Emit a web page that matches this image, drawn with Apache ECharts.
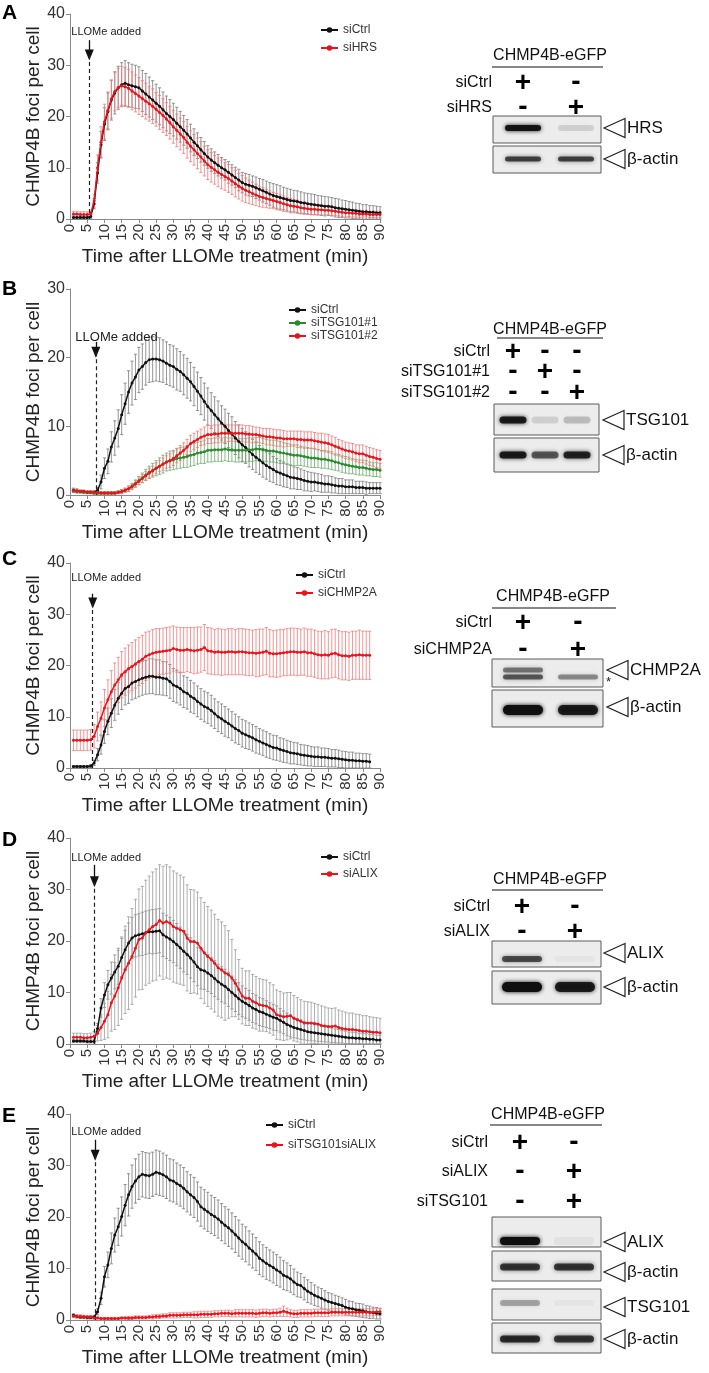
<!DOCTYPE html>
<html><head><meta charset="utf-8">
<script src="https://cdn.jsdelivr.net/npm/echarts@6/dist/echarts.min.js"></script>
<style>html,body{margin:0;padding:0;background:#fff}#c{width:709px;height:1373px}</style>
</head><body><div id="c"></div>
<script>
const FONT = "'Liberation Sans', Arial, Helvetica, sans-serif";
// time points (min)
const MINUTES = [1,2,3,4,5,6,7,8,9,10,11,12,13,14,15,16,17,18,19,20,21,22,23,24,25,26,27,28,29,30,
31,32,33,34,35,36,37,38,39,40,41,42,43,44,45,46,47,48,49,50,51,52,53,54,55,56,57,58,59,60,
61,62,63,64,65,66,67,68,69,70,71,72,73,74,75,76,77,78,79,80,81,82,83,84,85,86,87,88,89,90];
const X_TICKS = [0,5,10,15,20,25,30,35,40,45,50,55,60,65,70,75,80,85,90];

// ---- Panel A ----
const A_ctrl = [0.3,0.3,0.3,0.3,0.3,0.5,3.0,9.0,14.5,18.5,
21.0,23.2,24.6,25.6,26.2,26.5,26.2,26.0,25.8,25.6,
25.0,24.4,23.8,23.2,22.6,22.0,21.3,20.6,20.0,19.4,
18.7,18.0,17.3,16.6,15.8,15.0,14.3,13.5,12.8,12.1,
11.5,11.0,10.5,10.0,9.6,9.1,8.6,8.1,7.6,7.1,
6.8,6.6,6.4,6.1,5.8,5.5,5.2,4.9,4.6,4.4,
4.2,4.0,3.8,3.6,3.5,3.4,3.2,3.1,3.0,2.9,
2.8,2.7,2.6,2.5,2.5,2.4,2.2,2.1,2.0,1.9,
1.8,1.7,1.6,1.5,1.4,1.4,1.3,1.3,1.2,1.2];
const A_ctrl_err = [0.3,0.3,0.3,0.2,0.3,0.4,1.0,2.0,2.6,3.2,
3.6,3.9,4.1,4.2,4.3,4.4,4.3,4.2,4.2,4.1,
4.0,4.0,3.9,3.8,3.7,3.6,3.5,3.4,3.3,3.2,
3.1,3.0,2.9,2.8,2.7,2.6,2.5,2.4,2.3,2.2,
2.2,2.1,2.1,2.0,2.0,2.1,2.0,2.0,2.1,2.0,
2.1,2.1,2.0,2.1,2.1,2.2,2.2,2.2,2.3,2.3,
2.3,2.2,2.2,2.2,2.1,2.1,2.1,2.0,2.0,2.0,
2.0,1.9,1.9,1.9,1.8,1.8,1.8,1.8,1.7,1.7,
1.6,1.6,1.5,1.5,1.4,1.4,1.3,1.3,1.3,1.2];
const A_hrs = [1.0,1.0,0.9,0.9,0.9,1.0,3.5,10.0,15.0,19.0,
21.2,23.4,24.9,25.6,26.0,25.8,25.5,25.0,24.5,24.0,
23.5,23.0,22.5,22.0,21.4,20.8,20.2,19.5,18.8,18.0,
17.3,16.6,15.9,15.0,14.2,13.5,12.8,12.1,11.3,10.6,
10.1,9.6,9.1,8.7,8.3,7.9,7.4,6.9,6.4,6.0,
5.6,5.3,5.0,4.7,4.4,4.2,4.0,3.8,3.6,3.4,
3.2,3.0,2.8,2.6,2.5,2.4,2.2,2.1,2.0,1.9,
1.9,1.8,1.8,1.7,1.7,1.6,1.5,1.4,1.3,1.2,
1.2,1.1,1.1,1.0,1.0,1.0,0.9,0.9,0.9,0.9];
const A_hrs_err = [0.5,0.5,0.5,0.5,0.5,0.5,1.2,2.5,3.0,3.4,
3.6,3.7,3.8,3.8,3.8,3.8,3.7,3.7,3.6,3.6,
3.5,3.5,3.4,3.4,3.3,3.3,3.3,3.2,3.2,3.2,
3.2,3.1,3.1,3.1,3.0,3.0,3.0,3.0,2.9,2.9,
2.9,2.8,2.8,2.8,2.7,2.7,2.6,2.6,2.5,2.5,
2.4,2.3,2.2,2.1,2.0,1.9,1.8,1.7,1.6,1.6,
1.5,1.5,1.4,1.4,1.3,1.3,1.2,1.2,1.1,1.1,
1.0,1.0,1.0,0.9,0.9,0.9,0.8,0.8,0.8,0.8,
0.7,0.7,0.7,0.7,0.6,0.6,0.6,0.6,0.6,0.6];

// ---- Panel B ----
const B_ctrl = [0.7,0.6,0.5,0.5,0.4,0.4,0.4,0.7,1.9,3.9,
4.9,7.0,8.3,9.7,11.7,13.3,15.0,16.3,17.2,18.2,
18.7,19.3,19.7,19.8,19.8,19.7,19.5,19.2,18.9,18.7,
18.3,18.0,17.5,17.0,16.5,15.8,15.1,14.4,13.6,12.9,
12.3,11.7,11.1,10.5,10.0,9.4,8.9,8.3,7.8,7.3,
6.9,6.4,5.9,5.5,5.1,4.7,4.3,4.0,3.7,3.4,
3.2,3.0,2.8,2.6,2.5,2.4,2.3,2.1,2.0,1.9,
1.9,1.8,1.7,1.6,1.6,1.5,1.4,1.3,1.3,1.2,
1.2,1.2,1.1,1.1,1.1,1.0,1.0,1.0,1.0,1.0];
const B_ctrl_err = [0.3,0.3,0.2,0.2,0.2,0.2,0.2,0.4,1.0,1.5,
1.8,2.2,2.5,2.7,2.9,3.0,3.1,3.2,3.3,3.3,
3.3,3.3,3.3,3.3,3.2,3.2,3.1,3.1,3.0,3.0,
3.0,2.9,2.9,2.9,2.8,2.8,2.8,2.7,2.7,2.7,
2.6,2.6,2.6,2.5,2.5,2.5,2.5,2.4,2.4,2.4,
2.3,2.3,2.2,2.2,2.1,2.1,2.0,2.0,1.9,1.9,
1.8,1.8,1.7,1.7,1.6,1.6,1.5,1.5,1.4,1.4,
1.3,1.3,1.3,1.2,1.2,1.2,1.1,1.1,1.1,1.0,
1.0,1.0,0.9,0.9,0.9,0.9,0.8,0.8,0.8,0.8];
const B_tsg1 = [0.6,0.5,0.5,0.4,0.4,0.4,0.3,0.3,0.3,0.3,
0.3,0.3,0.3,0.4,0.5,0.7,0.9,1.3,1.7,2.1,
2.5,2.9,3.3,3.6,3.9,4.2,4.5,4.8,5.0,5.1,
5.3,5.4,5.5,5.6,5.8,5.9,6.1,6.2,6.3,6.5,
6.5,6.6,6.6,6.6,6.7,6.6,6.6,6.5,6.5,6.5,
6.5,6.6,6.6,6.7,6.7,6.6,6.5,6.4,6.4,6.3,
6.2,6.1,6.0,5.9,5.8,5.8,5.7,5.6,5.5,5.4,
5.4,5.3,5.2,5.2,5.1,5.0,4.8,4.7,4.5,4.4,
4.3,4.2,4.1,4.0,4.0,3.9,3.8,3.7,3.7,3.6];
const B_tsg1_err = [0.2,0.2,0.2,0.2,0.2,0.2,0.2,0.2,0.2,0.2,
0.2,0.2,0.2,0.2,0.3,0.3,0.4,0.4,0.5,0.6,
0.7,0.8,0.9,1.0,1.1,1.2,1.3,1.3,1.4,1.4,
1.5,1.5,1.5,1.6,1.6,1.6,1.6,1.6,1.7,1.7,
1.7,1.7,1.7,1.7,1.7,1.7,1.7,1.7,1.7,1.7,
1.7,1.7,1.7,1.7,1.7,1.6,1.6,1.6,1.6,1.6,
1.6,1.5,1.5,1.5,1.5,1.5,1.4,1.4,1.4,1.4,
1.4,1.3,1.3,1.3,1.3,1.3,1.2,1.2,1.2,1.2,
1.2,1.1,1.1,1.1,1.1,1.1,1.0,1.0,1.0,1.0];
const B_tsg2 = [0.7,0.6,0.5,0.5,0.4,0.4,0.4,0.4,0.3,0.3,
0.3,0.3,0.3,0.4,0.5,0.7,0.9,1.2,1.6,2.0,
2.4,2.8,3.2,3.5,3.9,4.2,4.5,4.8,5.0,5.3,
5.7,6.1,6.5,7.0,7.5,7.8,8.1,8.4,8.6,8.8,
8.8,8.9,8.9,9.0,9.0,9.0,9.0,9.0,9.0,9.0,
8.9,8.9,8.8,8.8,8.7,8.6,8.5,8.5,8.4,8.3,
8.3,8.2,8.2,8.2,8.2,8.1,8.1,8.0,8.0,8.0,
7.9,7.8,7.7,7.6,7.5,7.3,7.1,6.9,6.7,6.5,
6.4,6.3,6.1,6.0,6.0,5.8,5.6,5.5,5.3,5.2];
const B_tsg2_err = [0.2,0.2,0.2,0.2,0.2,0.2,0.2,0.2,0.2,0.2,
0.2,0.2,0.2,0.2,0.3,0.3,0.4,0.4,0.5,0.5,
0.6,0.6,0.7,0.7,0.8,0.8,0.9,0.9,1.0,1.0,
1.0,1.1,1.1,1.1,1.2,1.2,1.2,1.2,1.3,1.3,
1.3,1.3,1.3,1.3,1.3,1.2,1.2,1.2,1.2,1.2,
1.2,1.2,1.2,1.1,1.1,1.1,1.2,1.2,1.2,1.2,
1.2,1.2,1.1,1.1,1.1,1.2,1.2,1.2,1.2,1.2,
1.2,1.2,1.3,1.3,1.3,1.3,1.3,1.2,1.2,1.2,
1.2,1.2,1.2,1.3,1.3,1.3,1.3,1.3,1.3,1.3];

// ---- Panel C (87 time points) ----
const C_ctrl = [0.3,0.3,0.3,0.3,0.3,0.4,1.0,2.6,4.5,7.1,
9.1,10.7,12.3,13.6,14.6,15.5,15.9,16.6,16.9,17.2,
17.5,17.7,17.9,17.9,17.7,17.7,17.5,17.4,16.9,16.2,
15.9,15.5,14.9,14.6,14.0,13.6,13.0,12.5,12.0,11.7,
11.2,10.6,10.0,9.6,9.1,8.7,8.2,7.7,7.3,6.8,
6.5,6.2,5.9,5.5,5.2,4.9,4.6,4.3,4.0,3.9,
3.6,3.4,3.2,3.0,2.9,2.8,2.6,2.5,2.4,2.3,
2.2,2.2,2.1,2.1,2.0,1.9,1.9,1.8,1.7,1.6,
1.5,1.5,1.4,1.4,1.3,1.3,1.2];
const C_ctrl_err = [0.2,0.2,0.2,0.2,0.2,0.3,0.5,1.2,1.8,2.3,
2.6,2.8,3.0,3.1,3.2,3.2,3.3,3.3,3.3,3.3,
3.3,3.3,3.4,3.4,3.4,3.4,3.3,3.3,3.3,3.2,
3.2,3.2,3.1,3.1,3.1,3.0,3.0,3.0,3.0,3.0,
3.0,2.9,2.9,2.9,2.9,2.8,2.8,2.8,2.7,2.7,
2.7,2.6,2.6,2.6,2.5,2.5,2.5,2.4,2.4,2.4,
2.3,2.3,2.2,2.2,2.1,2.1,2.0,2.0,2.0,1.9,
1.9,1.9,1.8,1.8,1.8,1.7,1.7,1.7,1.6,1.6,
1.6,1.6,1.5,1.5,1.5,1.5,1.5];
const C_chmp = [5.4,5.4,5.4,5.4,5.4,5.5,6.2,8.1,9.7,11.7,
13.3,14.9,16.2,17.2,18.2,18.8,19.4,19.8,20.3,20.8,
21.2,21.8,22.1,22.4,22.6,22.7,22.8,22.9,23.0,23.3,
23.1,23.0,23.0,23.1,23.0,22.9,23.0,23.1,23.5,22.9,
22.8,22.6,22.7,22.6,22.6,22.7,22.7,22.6,22.7,22.7,
22.6,22.5,22.5,22.4,22.5,22.6,22.8,22.4,22.3,22.3,
22.4,22.5,22.6,22.7,22.7,22.6,22.6,22.7,22.5,22.5,
22.3,22.1,22.0,22.1,22.0,22.3,22.4,22.1,21.9,21.9,
21.8,22.0,22.0,22.1,22.0,22.0,22.0];
const C_chmp_err = [2.0,2.0,2.0,2.0,2.0,2.0,2.3,2.8,3.2,3.6,
3.9,4.1,4.3,4.4,4.5,4.6,4.6,4.7,4.7,4.7,
4.7,4.7,4.6,4.6,4.6,4.5,4.5,4.5,4.5,4.4,
4.4,4.4,4.4,4.3,4.4,4.5,4.5,4.4,4.5,4.5,
4.5,4.4,4.5,4.5,4.4,4.5,4.5,4.4,4.5,4.5,
4.5,4.5,4.4,4.6,4.6,4.5,4.6,4.6,4.5,4.6,
4.6,4.5,4.6,4.6,4.6,4.6,4.5,4.6,4.6,4.6,
4.6,4.6,4.6,4.7,4.6,4.7,4.7,4.7,4.7,4.7,
4.7,4.7,4.7,4.8,4.7,4.7,4.7];

// ---- Panel D ----
const D_ctrl = [0.6,0.6,0.6,0.6,0.5,0.5,0.5,3.0,7.0,9.5,
11.5,12.8,14.0,15.1,16.8,18.3,19.6,20.6,21.0,21.2,
21.4,21.6,21.8,21.8,21.9,22.0,21.2,20.8,20.4,19.9,
19.3,18.7,18.0,17.4,16.7,15.9,15.0,14.4,14.2,13.8,
13.3,12.7,12.1,11.6,11.2,10.6,10.0,9.4,8.8,8.3,
7.9,7.5,7.0,6.7,6.3,6.1,5.8,5.5,5.2,5.0,
4.6,4.2,3.8,3.5,3.2,3.0,2.8,2.6,2.4,2.3,
2.2,2.1,2.0,1.9,1.8,1.7,1.6,1.5,1.4,1.3,
1.2,1.2,1.1,1.1,1.0,1.0,0.9,0.9,0.8,0.8];
const D_ctrl_err = [0.3,0.3,0.3,0.3,0.3,0.3,0.3,1.0,1.8,2.4,
2.8,3.1,3.3,3.5,3.7,3.8,3.9,4.0,4.1,4.1,
4.2,4.2,4.2,4.3,4.3,4.3,4.2,4.2,4.2,4.1,
4.1,4.0,4.0,3.9,3.9,3.8,3.7,3.7,3.6,3.6,
3.5,3.5,3.4,3.4,3.3,3.3,3.2,3.1,3.1,3.0,
2.9,2.9,2.8,2.8,2.7,2.7,2.6,2.5,2.5,2.4,
2.3,2.2,2.2,2.1,2.0,1.9,1.9,1.8,1.7,1.7,
1.6,1.6,1.5,1.5,1.4,1.4,1.3,1.3,1.2,1.2,
1.1,1.1,1.1,1.0,1.0,1.0,0.9,0.9,0.9,0.9];
const D_alix = [1.3,1.3,1.3,1.2,1.2,1.3,1.5,2.1,3.2,4.4,
5.7,8.0,9.3,10.9,12.8,14.4,15.7,17.0,18.6,20.3,
20.6,21.6,22.2,22.8,23.2,24.0,23.5,23.8,23.5,22.8,
22.5,22.2,21.9,20.6,19.9,19.9,19.6,18.6,17.7,17.0,
16.4,15.7,14.8,14.4,13.8,13.5,12.8,11.8,10.6,9.3,
8.9,8.9,8.3,8.0,7.6,7.5,7.4,7.0,6.6,5.7,
5.5,5.3,5.4,5.5,5.0,4.7,4.4,4.1,4.1,4.1,
4.0,3.9,3.6,3.5,3.4,3.4,3.5,3.2,3.0,2.9,
2.8,2.8,2.7,2.6,2.5,2.5,2.4,2.3,2.3,2.2];
const D_alix_err = [0.8,0.8,0.8,0.8,0.8,0.8,0.9,1.5,2.5,3.5,
4.5,5.5,6.5,7.3,8.0,8.5,9.0,9.3,9.5,9.8,
10.0,10.2,10.4,10.6,10.8,10.8,11.0,11.0,10.9,10.8,
10.7,10.6,10.5,10.3,10.1,10.0,9.9,9.8,9.8,9.7,
9.6,9.5,9.4,9.3,9.2,8.5,7.5,6.5,5.8,5.4,
5.3,5.3,5.2,5.1,5.1,5.0,5.0,4.9,4.9,4.8,
4.7,4.6,4.6,4.5,4.4,4.3,4.2,4.2,4.1,4.0,
3.9,3.8,3.8,3.7,3.6,3.5,3.5,3.4,3.4,3.3,
3.2,3.2,3.1,3.1,3.0,3.0,2.9,2.9,2.8,2.8];

// ---- Panel E ----
const E_ctrl = [0.9,0.7,0.6,0.6,0.5,0.5,0.6,1.6,4.2,8.4,
10.7,13.9,16.5,18.1,20.1,22.3,24.3,25.9,27.0,27.8,
28.3,28.1,28.0,28.3,28.7,28.5,28.2,27.8,27.2,27.0,
26.5,26.1,25.6,24.9,24.3,23.8,23.0,22.0,21.5,21.0,
20.5,20.1,19.6,19.0,18.4,17.9,17.3,16.6,15.9,15.2,
14.7,14.0,13.4,12.8,12.0,11.5,11.0,10.6,10.2,9.7,
9.3,8.7,8.4,8.0,7.4,6.9,6.7,6.1,5.6,5.2,
4.8,4.5,4.2,3.9,3.6,3.4,3.2,3.0,2.8,2.5,
2.3,2.2,2.0,1.9,1.8,1.6,1.5,1.4,1.3,1.2];
const E_ctrl_err = [0.3,0.3,0.3,0.3,0.3,0.3,0.3,0.6,1.2,2.0,
2.5,3.0,3.3,3.6,3.8,4.0,4.1,4.2,4.3,4.4,
4.4,4.4,4.4,4.3,4.3,4.3,4.2,4.2,4.1,4.1,
4.0,4.0,4.0,3.9,3.9,3.9,3.8,3.8,3.8,3.8,
3.7,3.7,3.7,3.6,3.6,3.6,3.5,3.5,3.5,3.4,
3.4,3.3,3.3,3.2,3.2,3.1,3.1,3.0,3.0,3.0,
2.9,2.8,2.7,2.6,2.5,2.4,2.3,2.2,2.2,2.1,
2.0,1.9,1.9,1.8,1.7,1.7,1.6,1.6,1.5,1.5,
1.4,1.4,1.3,1.3,1.3,1.2,1.2,1.1,1.1,1.0];
const E_dbl = [0.8,0.7,0.7,0.6,0.6,0.6,0.4,0.4,0.3,0.3,
0.3,0.3,0.3,0.3,0.4,0.4,0.4,0.4,0.5,0.5,
0.5,0.5,0.6,0.6,0.7,0.7,0.8,0.8,0.9,0.9,
0.9,0.9,1.0,1.0,1.0,1.0,1.0,1.1,1.1,1.1,
1.1,1.2,1.2,1.3,1.3,1.3,1.2,1.3,1.3,1.3,
1.3,1.3,1.3,1.2,1.3,1.4,1.4,1.3,1.4,1.4,
1.5,1.7,1.5,1.3,1.2,1.2,1.3,1.3,1.3,1.3,
1.4,1.4,1.4,1.4,1.4,1.5,1.5,1.5,1.5,1.5,
1.5,1.5,1.5,1.5,1.5,1.5,1.5,1.5,1.6,1.6];
const E_dbl_err = [0.3,0.3,0.3,0.3,0.3,0.3,0.2,0.2,0.2,0.2,
0.2,0.2,0.2,0.2,0.2,0.2,0.3,0.3,0.3,0.3,
0.3,0.3,0.3,0.4,0.4,0.4,0.4,0.4,0.5,0.5,
0.5,0.5,0.5,0.5,0.5,0.6,0.6,0.6,0.6,0.6,
0.6,0.6,0.6,0.6,0.6,0.6,0.6,0.7,0.7,0.7,
0.7,0.7,0.7,0.7,0.7,0.7,0.7,0.7,0.7,0.7,
0.8,1.0,0.8,0.7,0.7,0.7,0.7,0.7,0.7,0.7,
0.7,0.7,0.7,0.7,0.7,0.7,0.7,0.7,0.7,0.7,
0.7,0.7,0.7,0.7,0.7,0.7,0.7,0.7,0.7,0.7];

// ---- Western blot annotations ----
const BLOT_TITLE = 'CHMP4B-eGFP';
const A_rows = ['siCtrl','siHRS'];
const A_signs = [['+','-'],['-','+']];
const A_blots = ['HRS','β-actin'];
const A_bands = [[0.95,0.12],[0.7,0.7]];
const B_rows = ['siCtrl','siTSG101#1','siTSG101#2'];
const B_signs = [['+','-','-'],['-','+','-'],['-','-','+']];
const B_blots = ['TSG101','β-actin'];
const B_bands = [[0.9,0.12,0.2],[0.9,0.6,0.85]];
const C_rows = ['siCtrl','siCHMP2A'];
const C_signs = [['+','-'],['-','+']];
const C_blots = ['CHMP2A','β-actin'];
const C_bands = [[0.6,0.4],[1.0,0.9]];
const D_rows = ['siCtrl','siALIX'];
const D_signs = [['+','-'],['-','+']];
const D_blots = ['ALIX','β-actin'];
const D_bands = [[0.65,0.03],[1.0,0.9]];
const E_rows = ['siCtrl','siALIX','siTSG101'];
const E_signs = [['+','-'],['-','+'],['-','+']];
const E_blots = ['ALIX','β-actin','TSG101','β-actin'];
const E_bands = [[1.0,0.05],[0.75,0.75],[0.3,0.03],[0.8,0.75]];

const BLACK = '#111111', RED = '#e8141c', GREEN = '#2b8a2b';
const panels = [
  {letter:'A', top:14, height:205, yMax:40, letterY:3,
   series:[{name:'siCtrl', v:A_ctrl, e:A_ctrl_err, c:BLACK, ec:'#7a7a7a'},
           {name:'siHRS', v:A_hrs, e:A_hrs_err, c:RED, ec:'#f07878'}],
   legend:{left:315, top:19, gap:6},
   llome:{x:5.6, top:34.9, tip:32.0, tx:10.5, ty:36.5, fs:11},
   blot:{rows:A_rows, signs:A_signs, names:A_blots, bands:A_bands, titleX:550, titleY:56, ul:[492,603,67], labelRight:492,
         rowY:[83,108], colX:[523,576], boxX:[493,601], boxes:[[116,143],[146,173]], bandY:[128,159], bandH:[6,5], bandW:36, arrowX:604, labelY:[128,159]}},
  {letter:'B', top:289, height:206, yMax:30, letterY:279,
   series:[{name:'siCtrl', v:B_ctrl, e:B_ctrl_err, c:BLACK, ec:'#7a7a7a'},
           {name:'siTSG101#1', v:B_tsg1, e:B_tsg1_err, c:GREEN, ec:'#6aaa6a'},
           {name:'siTSG101#2', v:B_tsg2, e:B_tsg2_err, c:RED, ec:'#f07878'}],
   legend:{left:283, top:299, gap:1},
   llome:{x:7.5, top:22.3, tip:20.8, tx:13.5, ty:23.0, fs:13},
   blot:{rows:B_rows, signs:B_signs, names:B_blots, bands:B_bands, titleX:550, titleY:330, ul:[497,603,338], labelRight:490,
         rowY:[352,372,393], colX:[513,545,577], boxX:[494,599], boxes:[[404,435],[438,472]], bandY:[420,455], bandH:[7,7], bandW:27, arrowX:603, labelY:[420,455]}},
  {letter:'C', top:563, height:205, yMax:40, letterY:549,
   series:[{name:'siCtrl', v:C_ctrl, e:C_ctrl_err, c:BLACK, ec:'#7a7a7a'},
           {name:'siCHMP2A', v:C_chmp, e:C_chmp_err, c:RED, ec:'#f07878'}],
   legend:{left:290, top:564, gap:6},
   llome:{x:6.6, top:34.0, tip:32.2, tx:10.5, ty:37.1, fs:11},
   blot:{rows:C_rows, signs:C_signs, names:C_blots, bands:C_bands, titleX:553, titleY:597, ul:[492,616,608], labelRight:492,
         rowY:[623,650], colX:[523,578], boxX:[492,603], boxes:[[659,687],[690,727]], bandY:[675,710], bandH:[8,10], bandW:40, arrowX:607, labelY:[670,707], star:true}},
  {letter:'D', top:838, height:206, yMax:40, letterY:830,
   series:[{name:'siCtrl', v:D_ctrl, e:D_ctrl_err, c:BLACK, ec:'#8a8a8a'},
           {name:'siALIX', v:D_alix, e:D_alix_err, c:RED, ec:'#9a9a9a'}],
   legend:{left:315, top:846, gap:5},
   llome:{x:7.1, top:34.8, tip:31.5, tx:10.5, ty:36.1, fs:11},
   blot:{rows:D_rows, signs:D_signs, names:D_blots, bands:D_bands, titleX:550, titleY:880, ul:[492,603,890], labelRight:490,
         rowY:[907,932], colX:[522,575], boxX:[492,601], boxes:[[941,967],[971,1004]], bandY:[959,987], bandH:[6,10], bandW:40, arrowX:604, labelY:[953,987]}},
  {letter:'E', top:1114, height:206, yMax:40, letterY:1106,
   series:[{name:'siCtrl', v:E_ctrl, e:E_ctrl_err, c:BLACK, ec:'#7a7a7a'},
           {name:'siTSG101siALIX', v:E_dbl, e:E_dbl_err, c:RED, ec:'#f07878'}],
   legend:{left:260, top:1114, gap:8},
   llome:{x:7.3, top:35.0, tip:32.0, tx:10.5, ty:36.5, fs:11},
   blot:{rows:E_rows, signs:E_signs, names:E_blots, bands:E_bands, titleX:548, titleY:1115, ul:[490,602,1125], labelRight:488,
         rowY:[1143,1172,1202], colX:[520,574], boxX:[492,601], boxes:[[1217,1247],[1251,1281],[1289,1320],[1323,1353]], bandY:[1241,1267,1303,1339], bandH:[8,7,6,7], bandW:40, arrowX:604, labelY:[1242,1272,1307,1339]}}
];

const grid = [], xAxis = [], yAxis = [], series = [], legend = [], graphic = [];
panels.forEach((p, i) => {
  grid.push({left:70, width:310, top:p.top, height:p.height});
  xAxis.push({type:'value', gridIndex:i, min:0, max:90, interval:5,
    axisLine:{lineStyle:{color:'#8a8a8a', width:1}},
    axisTick:{show:true, length:4, lineStyle:{color:'#8a8a8a'}},
    axisLabel:{rotate:90, fontSize:15, color:'#333', margin:5, fontFamily:FONT,
      formatter: v => X_TICKS.indexOf(v) >= 0 ? String(v) : ''},
    splitLine:{show:false},
    name:'Time after LLOMe treatment (min)', nameLocation:'middle', nameGap:28,
    nameTextStyle:{fontSize:19, color:'#222', fontFamily:FONT}});
  yAxis.push({type:'value', gridIndex:i, min:0, max:p.yMax, interval:10,
    axisLine:{show:true, lineStyle:{color:'#8a8a8a', width:1}},
    axisTick:{show:true, length:4, lineStyle:{color:'#8a8a8a'}},
    axisLabel:{fontSize:16, color:'#333', margin:5, fontFamily:FONT},
    splitLine:{show:false},
    name:'CHMP4B foci per cell', nameLocation:'middle', nameGap:27,
    nameTextStyle:{fontSize:19, color:'#222', fontFamily:FONT}});
  // error bars
  p.series.forEach(s => {
    const data = s.v.map((m, k) => [MINUTES[k], Math.max(0, m - s.e[k]), m + s.e[k]]);
    const col = s.ec;
    series.push({type:'custom', name:s.name + ' SEM', xAxisIndex:i, yAxisIndex:i, silent:true,
      data, encode:{x:0, y:[1,2]}, z:2,
      renderItem:(params, api) => {
        const x = api.value(0);
        const lo = api.coord([x, api.value(1)]), hi = api.coord([x, api.value(2)]);
        const w = 1.6;
        return {type:'group', children:[
          {type:'line', shape:{x1:lo[0], y1:lo[1], x2:hi[0], y2:hi[1]}, style:{stroke:col, lineWidth:0.8}},
          {type:'line', shape:{x1:hi[0]-w, y1:hi[1], x2:hi[0]+w, y2:hi[1]}, style:{stroke:col, lineWidth:0.8}},
          {type:'line', shape:{x1:lo[0]-w, y1:lo[1], x2:lo[0]+w, y2:lo[1]}, style:{stroke:col, lineWidth:0.8}}
        ]};
      }});
  });
  p.series.forEach((s, j) => {
    const ser = {type:'line', name:s.name, xAxisIndex:i, yAxisIndex:i, z:5 + j,
      data: s.v.map((m, k) => [MINUTES[k], m]),
      symbol:'circle', symbolSize:3, showSymbol:true,
      lineStyle:{color:s.c, width:1.5}, itemStyle:{color:s.c}, color:s.c};
    if (j === 0) {
      const L = p.llome;
      ser.markLine = {silent:true, animation:false, label:{show:false}, symbol:['none','none'],
        data:[
          [{coord:[L.x, L.top], symbol:'none', lineStyle:{type:'solid', color:'#111', width:1.3}},
           {coord:[L.x, L.tip], symbol:'triangle', symbolSize:[9,11]}],
          [{coord:[L.x, L.tip], symbol:'none', lineStyle:{type:[4,3], color:'#222', width:1.2}},
           {coord:[L.x, 0], symbol:'none'}]
        ]};
      ser.markPoint = {silent:true, animation:false, symbol:'circle', symbolSize:0,
        label:{show:true, position:'inside', formatter:'LLOMe added', fontSize:L.fs, color:'#222', fontFamily:FONT},
        data:[{coord:[L.tx, L.ty]}]};
    }
    series.push(ser);
  });
  legend.push({orient:'vertical', left:p.legend.left, top:p.legend.top, itemGap:p.legend.gap,
    itemWidth:17, itemHeight:7, data:p.series.map(s => s.name),
    textStyle:{fontSize:12, color:'#333', fontFamily:FONT, lineHeight:12}, selectedMode:false});
  // panel letter
  graphic.push({type:'text', x:2, y:p.letterY, style:{text:p.letter, fontSize:21, fontWeight:'bold', fontFamily:FONT, fill:'#000'}});
  // blot
  const b = p.blot;
  graphic.push({type:'text', x:b.titleX, y:b.titleY, style:{text:BLOT_TITLE, fontSize:16, fontFamily:FONT, fill:'#111', align:'center', verticalAlign:'middle'}});
  graphic.push({type:'line', shape:{x1:b.ul[0], y1:b.ul[2], x2:b.ul[1], y2:b.ul[2]}, style:{stroke:'#111', lineWidth:1.2}});
  b.rows.forEach((r, ri) => {
    graphic.push({type:'text', x:b.labelRight, y:b.rowY[ri], style:{text:r, fontSize:16, fontFamily:FONT, fill:'#111', align:'right', verticalAlign:'middle'}});
    b.signs[ri].forEach((sg, ci) => {
      graphic.push({type:'text', x:b.colX[ci], y:b.rowY[ri] + (sg === '-' ? -1 : 0), style:{text:sg, fontSize:28, fontWeight:'bold', fontFamily:FONT, fill:'#000', align:'center', verticalAlign:'middle'}});
    });
  });
  b.boxes.forEach((bx, k) => {
    graphic.push({type:'rect', shape:{x:b.boxX[0], y:bx[0], width:b.boxX[1]-b.boxX[0], height:bx[1]-bx[0]}, style:{fill:'#ececec', stroke:'#5a5a5a', lineWidth:1}});
    b.bands[k].forEach((a, ci) => {
      const cx = b.colX[ci], h = b.bandH[k];
      const mk = (yy, hh, aa) => ({type:'rect', shape:{x:cx - b.bandW/2, y:yy - hh/2, width:b.bandW, height:hh, r:hh/2},
        style:{fill:`rgba(15,15,15,${aa})`, shadowBlur:4, shadowColor:`rgba(15,15,15,${aa})`}});
      if (b.star && k === 0 && ci === 0) {
        graphic.push(mk(b.bandY[k] - 5, 5, a * 0.8));
        graphic.push(mk(b.bandY[k] + 2, 5, a));
      } else if (b.star && k === 0) {
        graphic.push(mk(b.bandY[k] + 2, 5, a));
      } else {
        graphic.push(mk(b.bandY[k], h, a));
      }
    });
    const ax = b.arrowX, ay = b.labelY[k];
    graphic.push({type:'polygon', shape:{points:[[ax+21, ay-9.5],[ax, ay],[ax+21, ay+9.5]]}, style:{fill:'#fff', stroke:'#222', lineWidth:1.2}});
    graphic.push({type:'text', x:ax+23, y:ay, style:{text:b.names[k], fontSize:17, fontFamily:FONT, fill:'#111', verticalAlign:'middle'}});
  });
  if (b.star) {
    graphic.push({type:'text', x:b.boxX[1] + 3, y:b.boxes[0][1] - 5, style:{text:'*', fontSize:13, fontFamily:FONT, fill:'#222', verticalAlign:'middle'}});
  }
});

const chart = echarts.init(document.getElementById('c'), null, {renderer:'canvas'});
chart.setOption({
  animation:false, backgroundColor:'#fff',
  textStyle:{fontFamily:FONT},
  grid, xAxis, yAxis, series, legend, graphic
});
</script></body></html>
